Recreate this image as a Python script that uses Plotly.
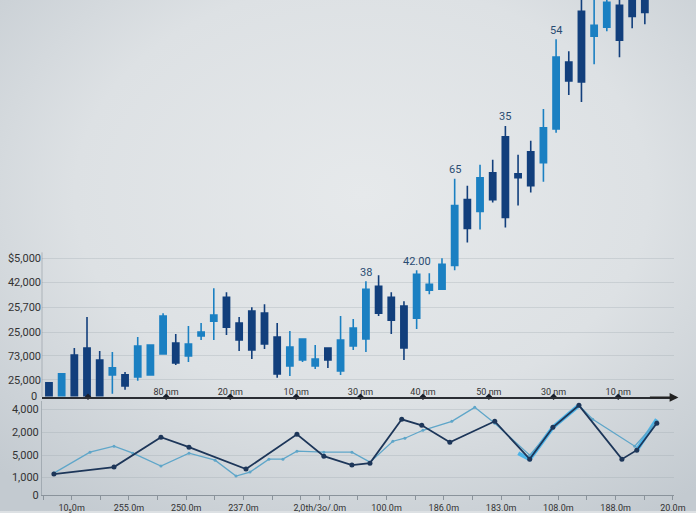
import base64
import plotly.graph_objects as go

# ---------------- data ----------------
# top candlestick panel: candle index, open, high, low, close
candle_idx = list(range(48))
c_open  = [14, 1, 42, 49, 37, 22, 22, 20, 22, 43, 54, 41, 61, 76, 100, 74, 86, 84, 60, 31,
           37, 31, 49, 26, 51, 58, 111, 100, 91, 79, 107, 108, 132, 198, 186, 225, 261, 224,
           246, 235, 269, 336, 387, 362, 371, 393, 410, 412]
c_high  = [14, 23, 49, 80, 46, 45, 25, 60, 52, 84, 63, 71, 74, 109, 105, 80, 90, 93, 74, 66,
           58, 52, 49, 81, 78, 116, 122, 105, 96, 127, 124, 139, 219, 212, 233, 238, 272, 243,
           257, 289, 359, 347, 405, 410, 410, 410, 420, 420]
c_low   = [1, 1, 1, 1, 1, 3, 7, 16, 22, 43, 32, 35, 57, 57, 62, 46, 38, 48, 19, 21,
           35, 28, 29, 22, 47, 45, 81, 63, 37, 68, 103, 108, 127, 155, 168, 195, 170, 192,
           205, 216, 265, 303, 296, 334, 367, 341, 370, 374]
c_close = [1, 23, 1, 1, 1, 29, 11, 51, 52, 81, 34, 53, 65, 82, 70, 57, 47, 53, 23, 50,
           58, 38, 37, 57, 69, 108, 84, 77, 49, 123, 113, 133, 192, 169, 220, 198, 180, 220,
           212, 270, 341, 317, 316, 373, 396, 358, 382, 386]

top_ytick_vals = [0, 17, 41, 65, 90, 115, 139]
top_ytick_text = ["0", "25,000", "73,000", "25,000", "25,700", "42,000", "$5,000"]

top_xtick_vals = [3.08, 9.24, 14.3, 19.5, 24.57, 29.5, 34.7, 39.8, 44.9]
top_xtick_text = ["", "80 nm", "20 nm", "10 nm", "30 nm", "40 nm", "50 nm", "30 nm", "10 nm"]

label_idx  = [25, 29, 32, 36, 40]
label_text = ["38", "42.00", "65", "35", "54"]

# bottom line panel
dark_x = [0.38, 2.48, 4.12, 5.10, 7.09, 8.87, 9.81, 10.79, 11.42, 12.53, 13.23, 14.21,
          15.78, 17.0, 17.81, 18.72, 20.22, 20.74, 21.44]
dark_y = [21, 28, 58, 48, 26, 61, 39, 30, 32, 76, 70, 53, 74, 36, 68, 90, 36, 45, 72]

light_x = [0.38, 1.64, 2.48, 3.14, 4.12, 5.10, 6.01, 6.74, 7.23, 7.89, 8.38, 8.87, 9.81,
           10.79, 11.42, 12.22, 12.64, 13.27, 14.28, 15.08, 15.78, 17.0, 17.81, 18.72,
           19.20, 20.67, 21.44]
light_y = [22, 43, 49, 42, 29, 42, 35, 19, 23, 36, 36, 44, 43, 43, 33, 54, 57, 65, 74,
           88, 72, 40, 67, 90, 76, 49, 74]

cyan_x = [16.6, 17.0, 17.81, 18.72, None, 20.74, 21.44]
cyan_y = [42, 36, 68, 90, None, 45, 76]

bot_ytick_vals = [0, 18, 40, 63, 86]
bot_ytick_text = ["0", "1,000", "5,000", "2,000", "4,000"]

bot_xtick_vals = list(range(23)) + [9.67]
bot_label_map = {1: "10\u20850m", 3: "255.0m", 5: "250.0m", 7: "237.0m", 12: "100.0m",
                 14: "186.0m", 16: "183.0m", 18: "108.0m", 20: "188.0m", 22: "20.0m"}
bot_xtick_text = [bot_label_map.get(v, "") for v in range(23)] + ["2,0th/3o/.0m"]

# ---------------- figure ----------------
LIGHT = "#1b80c2"
DARK = "#123f7c"
FONT = "Roboto"

fig = go.Figure()

fig.add_trace(go.Candlestick(
    x=candle_idx, open=c_open, high=c_high, low=c_low, close=c_close,
    increasing=dict(line=dict(color=LIGHT, width=1.6), fillcolor=LIGHT),
    decreasing=dict(line=dict(color=DARK, width=1.6), fillcolor=DARK),
    whiskerwidth=0, xaxis="x", yaxis="y", showlegend=False, hoverinfo="skip",
))

fig.add_trace(go.Scatter(
    x=top_xtick_vals, y=[0] * len(top_xtick_vals), mode="markers",
    marker=dict(color="#1a1f2b", size=5, symbol="diamond"),
    xaxis="x", yaxis="y", cliponaxis=False, showlegend=False, hoverinfo="skip",
))

fig.add_trace(go.Scatter(
    x=cyan_x, y=cyan_y, mode="lines", line=dict(color="#4cb4e8", width=4),
    xaxis="x2", yaxis="y2", showlegend=False, hoverinfo="skip", connectgaps=False,
))
fig.add_trace(go.Scatter(
    x=light_x, y=light_y, mode="lines+markers",
    line=dict(color="#5fa6c9", width=1.3), marker=dict(color="#5fa6c9", size=3),
    xaxis="x2", yaxis="y2", showlegend=False, hoverinfo="skip",
))
fig.add_trace(go.Scatter(
    x=dark_x, y=dark_y, mode="lines+markers",
    line=dict(color="#1d3659", width=1.8), marker=dict(color="#1d3659", size=5),
    xaxis="x2", yaxis="y2", showlegend=False, hoverinfo="skip",
))

W, H = 696, 513
ML, MR, MT, MB = 42, 22, 0, 16
PW, PH = W - ML - MR, H - MT - MB
TOP_BOTTOM = (PH - 399) / PH

annotations = []
for i, t in zip(label_idx, label_text):
    annotations.append(dict(x=i, y=c_high[i], xref="x", yref="y", text=t, showarrow=False,
                            yshift=9, font=dict(family=FONT, size=11, color="#2a4c72")))
# "0" label of the upper value axis
annotations.append(dict(x=0, y=top_ytick_vals[0], xref="paper", yref="y",
                        text=top_ytick_text[0], showarrow=False, xanchor="right",
                        xshift=-3, font=dict(family=FONT, size=11, color="#333")))
# axis arrow
annotations.append(dict(x=1.007, y=TOP_BOTTOM, xref="paper", yref="paper", ax=-30, ay=0,
                        axref="pixel", ayref="pixel", text="", showarrow=True,
                        arrowhead=2, arrowsize=1.1, arrowwidth=1.6, arrowcolor="#222"))

svg = """<svg xmlns='http://www.w3.org/2000/svg' width='696' height='513'>
<defs><radialGradient id='g' cx='52%' cy='38%' r='75%'>
<stop offset='0%' stop-color='#e6e9eb'/><stop offset='55%' stop-color='#dde1e4'/>
<stop offset='100%' stop-color='#c3cad0'/></radialGradient></defs>
<rect width='696' height='513' fill='url(#g)'/></svg>"""
bg_src = "data:image/svg+xml;base64," + base64.b64encode(svg.encode()).decode()

grid = "rgba(150,160,170,0.28)"
fig.update_layout(
    width=W, height=H, margin=dict(l=ML, r=MR, t=MT, b=MB),
    paper_bgcolor="#dde1e4", plot_bgcolor="rgba(0,0,0,0)",
    font=dict(family=FONT, color="#333"),
    images=[dict(source=bg_src, xref="paper", yref="paper", x=-ML / PW, y=1 + MT / PH,
                 sizex=W / PW, sizey=H / PH, sizing="stretch", layer="below",
                 xanchor="left", yanchor="top")],
    annotations=annotations,
    shapes=[dict(type="line", xref="paper", yref="y", x0=0, x1=0, y0=0,
                 y1=top_ytick_vals[-1] + 6, line=dict(color="rgba(120,130,140,0.45)", width=1))],
    xaxis=dict(domain=[0, 1], range=[-0.55, 49.3], rangeslider=dict(visible=False),
               tickvals=top_xtick_vals, ticktext=top_xtick_text, ticks="",
               ticklabelposition="inside", tickfont=dict(size=9, color="#333"),
               showline=True, linecolor="#2a2d33", linewidth=1.5, showgrid=False,
               zeroline=False, anchor="y"),
    yaxis=dict(domain=[TOP_BOTTOM, 1],
               range=[-0.6, 398.4], tickvals=top_ytick_vals[1:], ticktext=top_ytick_text[1:],
               tickfont=dict(size=11, color="#333"), showgrid=True, gridcolor=grid,
               showline=False, zeroline=False, ticks="", anchor="x"),
    xaxis2=dict(domain=[0, 1], range=[-0.035, 22.04], tickvals=bot_xtick_vals,
                ticktext=bot_xtick_text, ticks="outside", ticklen=4, tickcolor="#8a939b",
                tickfont=dict(size=9, color="#333"), showline=True, linecolor="#8a939b",
                linewidth=1, showgrid=False, zeroline=False, anchor="y2"),
    yaxis2=dict(domain=[0, 94 / PH], range=[0, 94], tickvals=bot_ytick_vals,
                ticktext=bot_ytick_text, tickfont=dict(size=11, color="#333"),
                showgrid=True, gridcolor=grid, showline=True,
                linecolor="rgba(120,130,140,0.45)", zeroline=False, ticks="", anchor="x2"),
)

fig.write_html("out.html", config={"displayModeBar": False},
               post_script="document.body.style.margin='0';document.body.style.overflow='hidden';")
